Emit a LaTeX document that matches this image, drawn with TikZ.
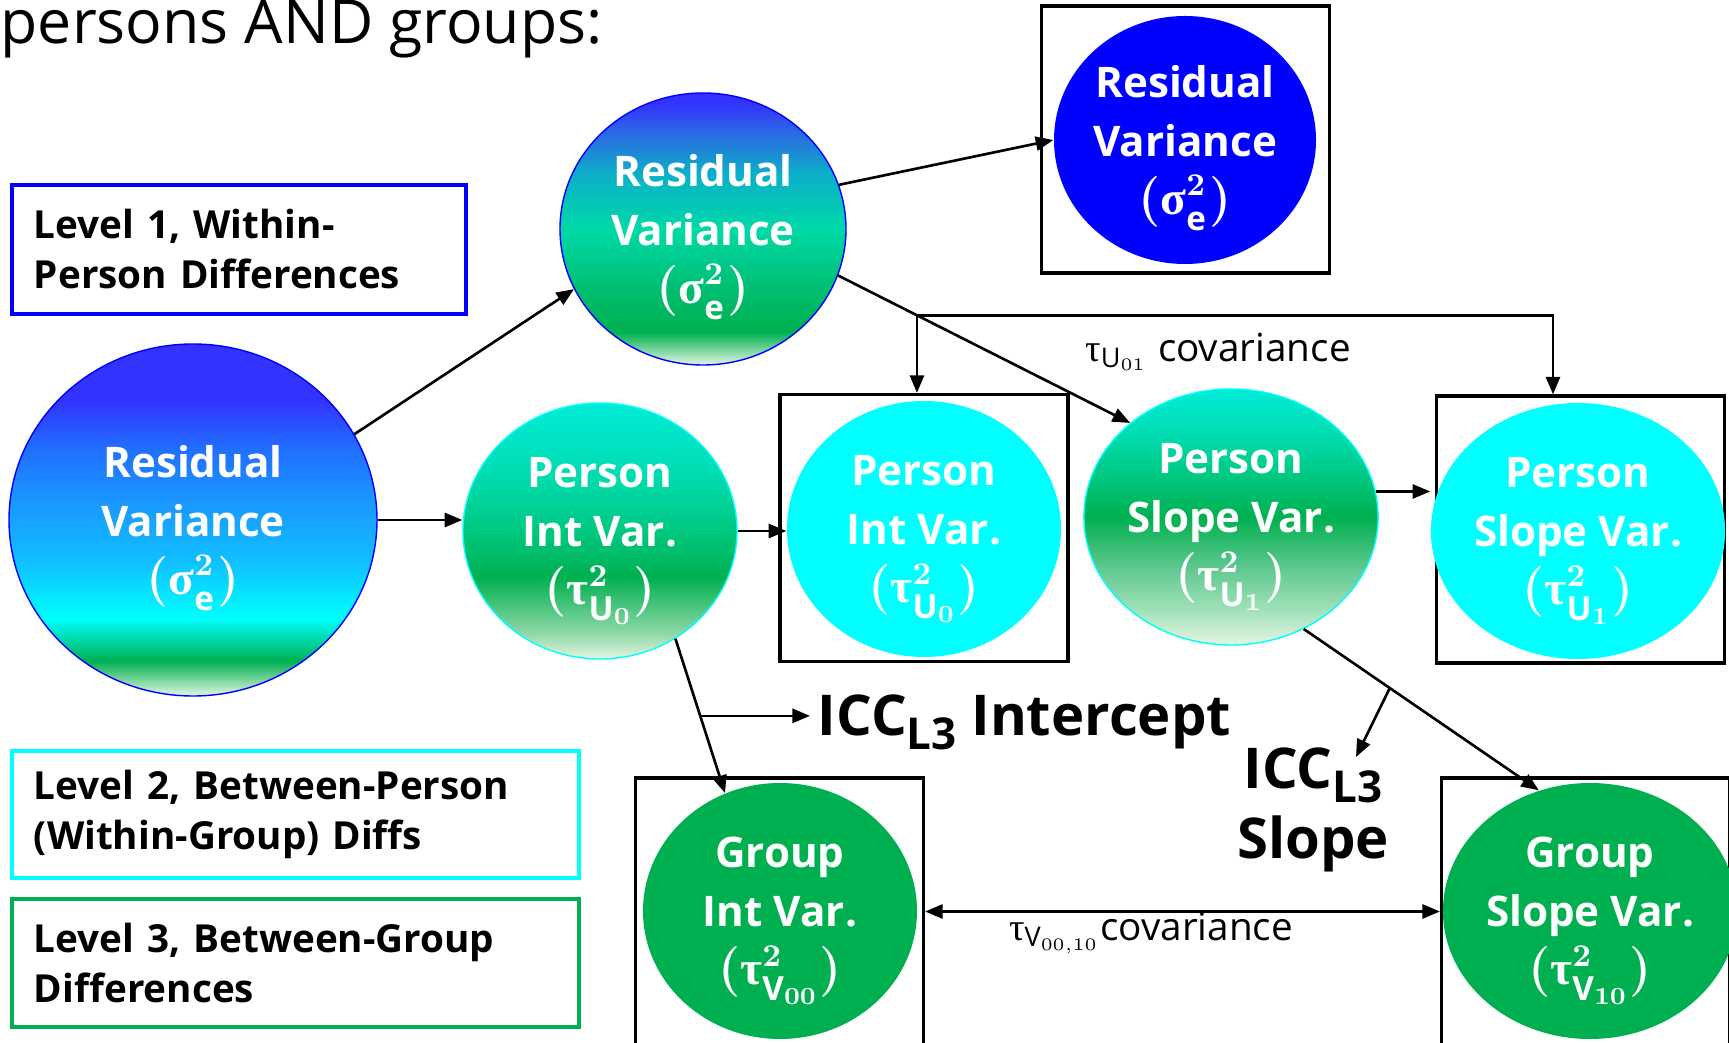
\documentclass[tikz,border=0pt]{standalone}
\usepackage{fontspec}
\setmainfont{Open Sans}
\newfontfamily\grk{Liberation Serif}
\usetikzlibrary{shapes.geometric,arrows.meta,calc}

\definecolor{lvpale}{HTML}{E4F6E2}
\definecolor{lvgreen}{HTML}{00B050}
\definecolor{lvcyan}{HTML}{00FFFF}
\definecolor{lvblue}{HTML}{3333FF}
\definecolor{lvpure}{HTML}{0000FF}
\definecolor{lvteal}{HTML}{00D8A8}
\definecolor{lvsky}{HTML}{10C0FF}
\definecolor{lvmid}{HTML}{1A9AFF}
\definecolor{lvdeep}{HTML}{2070FF}
\definecolor{lvaqua}{HTML}{00D9A8}
\definecolor{lvsea}{HTML}{0AB0C8}
\definecolor{lvroyal}{HTML}{2A70E0}
\definecolor{lvleaf}{HTML}{00BE70}
\definecolor{lvmint}{HTML}{90D8A8}
\definecolor{lvjade}{HTML}{00C880}
\definecolor{lvturq}{HTML}{00DCB0}
\definecolor{lvice}{HTML}{00ECD8}
\definecolor{lvsoft}{HTML}{A0E0B8}
\definecolor{lvfern}{HTML}{60C890}

% shadings: 25bp = bottom of the ellipse, 75bp = top
\pgfdeclareverticalshading{resbig}{100bp}{color(0bp)=(lvpale); color(25bp)=(lvpale); color(30bp)=(lvgreen); color(33bp)=(lvteal); color(36bp)=(lvcyan); color(44bp)=(lvsky); color(52bp)=(lvmid); color(60bp)=(lvdeep); color(67bp)=(lvblue); color(100bp)=(lvblue)}
\pgfdeclareverticalshading{resmid}{100bp}{color(0bp)=(lvpale); color(25bp)=(lvpale); color(31bp)=(lvgreen); color(39bp)=(lvleaf); color(50bp)=(lvaqua); color(60bp)=(lvsea); color(67bp)=(lvroyal); color(73bp)=(lvblue); color(100bp)=(lvblue)}
\pgfdeclareverticalshading{pintsh}{100bp}{color(0bp)=(lvpale); color(25bp)=(lvpale); color(30bp)=(lvmint); color(41bp)=(lvgreen); color(50bp)=(lvjade); color(61bp)=(lvturq); color(75bp)=(lvice); color(100bp)=(lvice)}
\pgfdeclareverticalshading{pslopesh}{100bp}{color(0bp)=(lvpale); color(25bp)=(lvpale); color(32bp)=(lvsoft); color(40bp)=(lvfern); color(50bp)=(lvgreen); color(58bp)=(lvjade); color(66bp)=(lvturq); color(75bp)=(lvice); color(100bp)=(lvice)}

\newcommand{\iccsub}[1]{\raisebox{-4pt}{\fontsize{12.5}{12.5}\selectfont #1}}
\newcommand{\vcomp}[3]{{\fontsize{13.5}{16.2}\selectfont$(\mbox{\grk #1}^{2}_{\mathrm{#2}_{#3}})$}}

\tikzset{
  varell/.style={ellipse, inner sep=0pt, minimum width=2.74cm, minimum height=2.56cm, text depth=0pt,
    text=white, align=center, font=\fontsize{12}{16.6}\selectfont\bfseries\boldmath},
  framebox/.style={draw, line width=0.9pt, minimum width=2.88cm, minimum height=2.67cm},
  lvlbox/.style={draw, line width=1.1pt, anchor=north west, align=left, inner xsep=0.22cm,
    font=\fontsize{11}{14.2}\selectfont\bfseries},
  arr/.style={-{Triangle[length=5pt,width=4pt]}, line width=0.75pt},
  dblarr/.style={{Triangle[length=5pt,width=4pt]}-{Triangle[length=5pt,width=4pt]}, line width=0.75pt},
  covlbl/.style={font=\fontsize{11}{11}\selectfont},
  icclbl/.style={font=\fontsize{16}{20}\selectfont\bfseries}
}

\begin{document}
\begin{tikzpicture}
    \useasboundingbox (0,0) rectangle (17.29,-10.43);
    \node[anchor=base west, inner sep=0pt, font=\fontsize{17.3}{17.3}\selectfont] (title) at (0.0,-0.44) {persons AND groups:};

    % legend
    \node[lvlbox, draw=lvpure, text width=4.1cm, minimum height=1.29cm] (lvlOne) at (0.10,-1.83) {Level 1, Within-\\Person Differences};
    \node[lvlbox, draw=lvcyan, text width=5.23cm, minimum height=1.27cm] (lvlTwo) at (0.10,-7.49) {Level 2, Between-Person\\(Within-Group) Diffs};
    \node[lvlbox, draw=lvgreen, text width=5.23cm, minimum height=1.28cm] (lvlThree) at (0.10,-8.97) {Level 3, Between-Group\\Differences};

    % frames
    \node[framebox] (topBox) at (11.855,-1.395) {};
    \node[framebox] (pIntBox) at (9.24,-5.28) {};
    \node[framebox] (pSlopeBox) at (15.805,-5.295) {};
    \node[framebox] (gIntBox) at (7.795,-9.115) {};
    \node[framebox] (gSlopeBox) at (15.855,-9.115) {};

    % variance components
    \node[varell, shade, shading=resbig, draw=lvpure, minimum width=3.68cm, minimum height=3.52cm] (resBig) at (1.93,-5.20) {Residual\\Variance\\\vcomp{σ}{e}{}};
    \node[varell, shade, shading=resmid, draw=lvpure, minimum width=2.86cm, minimum height=2.72cm] (resMid) at (7.03,-2.29) {Residual\\Variance\\\vcomp{σ}{e}{}};
    \node[varell, fill=lvpure, minimum width=2.62cm, minimum height=2.48cm] (resTop) at (11.85,-1.40) {Residual\\Variance\\\vcomp{σ}{e}{}};
    \node[varell, shade, shading=pintsh, draw=lvcyan] (pInt) at (6.00,-5.31) {Person\\Int Var.\\\vcomp{τ}{U}{0}};
    \node[varell, fill=lvcyan] (pIntIn) at (9.24,-5.29) {Person\\Int Var.\\\vcomp{τ}{U}{0}};
    \node[varell, shade, shading=pslopesh, draw=lvcyan] (pSlope) at (12.31,-5.17) {Person\\Slope Var.\\\vcomp{τ}{U}{1}};
    \node[varell, fill=lvcyan] (pSlopeIn) at (15.78,-5.31) {Person\\Slope Var.\\\vcomp{τ}{U}{1}};
    \node[varell, fill=lvgreen] (gInt) at (7.80,-9.11) {Group\\Int Var.\\\vcomp{τ}{V}{00}};
    \node[varell, fill=lvgreen] (gSlope) at (15.90,-9.11) {Group\\Slope Var.\\\vcomp{τ}{V}{10}};

    % connectors
    \draw[arr] (resBig.28) -- (resMid.205);
    \draw[arr] (resBig.east) -- (resBig.east -| pInt.west);
    \draw[arr] (resMid.18) -- (resTop.west);
    \draw[arr] (resMid.-19) -- (pSlope.137);
    \coordinate (covL) at ($(resMid.-19)!0.27!(pSlope.137)$);
    \coordinate (covR) at ($(covL)+(6.36,0)$);
    \draw[arr] (covL) -- (covL |- pIntBox.north);
    \draw[arr] (covL) -- (covR) -- (covR |- pSlopeBox.north);
    \node[covlbl] (covU) at (12.18,-3.52) {$\mbox{\grk τ}_{\mathrm{U}_{01}}$ covariance};

    \draw[arr] (pInt.east) -- (pInt.east -| pIntIn.west);
    \draw[arr] (pInt.-55) -- (gInt.115);
    \coordinate (iccIntFrom) at ($(pInt.-55)!0.5!(gInt.115)$);
    \node[icclbl, anchor=west, text depth=0pt, inner sep=2pt] (iccInt) at (8.10,-7.15) {ICC\iccsub{L3} Intercept};
    \draw[arr] (iccIntFrom) -- (iccIntFrom -| iccInt.west);

    \draw[arr] (pSlope.10) -- (pSlope.10 -| pSlopeIn.west);
    \draw[arr] (pSlope.-57) -- (gSlope.113);
    \coordinate (iccSlopeFrom) at ($(pSlope.-57)!0.366!(gSlope.113)$);
    \node[icclbl, align=center, inner sep=0pt] (iccSlope) at (13.13,-8.10) {ICC\iccsub{L3}\\Slope};
    \coordinate (iccSlopeTo) at (13.56,-7.57);
    \draw[arr] (iccSlopeFrom) -- (iccSlopeTo);

    \draw[dblarr] (gIntBox.east) -- (gSlopeBox.west);
    \node[covlbl] (covV) at (11.51,-9.33) {$\mbox{\grk τ}_{\mathrm{V}_{00,10}}$covariance};
\end{tikzpicture}
\end{document}
